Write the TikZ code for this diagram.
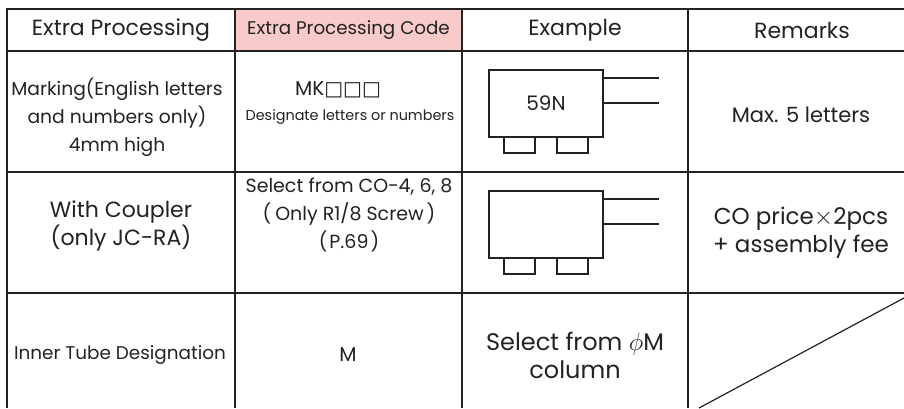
\documentclass[tikz,border=0pt]{standalone}
\usepackage{fontspec}
\setmainfont{Poppins}
\newfontfamily\symfont{DejaVu Sans}
\definecolor{headpink}{HTML}{F9CACA}
\definecolor{ink}{HTML}{222222}

\begin{document}
\begin{tikzpicture}[x=1pt,y=-1pt,
    grid/.style={draw=ink,line width=1.6pt},
    part/.style={draw=ink,line width=1.2pt},
    txt/.style={text=ink,align=center,inner sep=0pt,font=\fontsize{#1}{28}\selectfont},
    txt/.default=20]
  \useasboundingbox (0,0) rectangle (904,408);

  % header cell with colour
  \fill[headpink] (235,9) rectangle (462,51) node[pos=.5,txt=18.3] (codehead) {Extra Processing Code};

  % table lines
  \draw[grid] (7,408) -- (7,9) -- (904,9);
  \foreach \y in {51,172,293}
    \draw[grid] (7,\y) -- (904,\y);
  \foreach \x in {235,462}
    \draw[grid] (\x,9) -- (\x,408);
  \draw[grid,line width=2.2pt] (688,9) -- (688,408);

  % header texts
  \node[txt=22] (prochead) at (121,30) {Extra Processing};
  \node[txt=22] (exhead) at (575,30) {Example};
  \node[txt=22] (remhead) at (802,30) {Remarks};

  % row 1
  \node[txt=18.7] (mark) at (117,117) {Marking(English letters\\and numbers only)\\4mm high};
  \node[txt] (mkcode) at (338,90) {MK{\symfont □□□}};
  \node[txt=14.4] (mknote) at (350,117) {Designate letters or numbers};
  \node[txt=21] (maxlet) at (801,115) {Max. 5 letters};

  % row 2
  \node[txt=22] (coupler) at (121,226) {With Coupler\\(only JC-RA)};
  \node[txt=19] (cosel) at (349,215) {Select from CO-4, 6, 8\\(\hspace{4pt}Only R1/8 Screw\hspace{3pt})\\(\hspace{2pt}P.69\hspace{2pt})};
  \node[txt=23] (coprice) at (801,233) {CO price$\times$2pcs\\+ assembly fee};

  % row 3
  \node[txt=18.4] (tube) at (120,355) {Inner Tube Designation};
  \node[txt] (mcode) at (348,355) {M};
  \node[txt=24] (phisel) at (575,355) {Select from $\phi$M\\column};
  \draw[part] (699,408) -- (904,298);

  % example parts, one per row
  \draw[part] (489,70) rectangle (603,137) node[pos=.5,txt] (mark59) {59N};
  \draw[part] (489,191) rectangle (603,258) node[pos=.5] (coupbody) {};
  \foreach \t in {51,172} {
    \draw[part] (603,\t+27) -- (659,\t+27);
    \draw[part] (603,\t+52) -- (659,\t+52);
    \draw[part] (504,\t+86) rectangle (535,\t+102);
    \draw[part] (557,\t+86) rectangle (588,\t+102);
  }
\end{tikzpicture}
\end{document}
